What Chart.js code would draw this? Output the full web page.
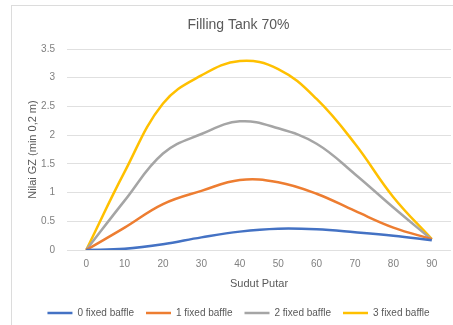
<!DOCTYPE html>
<html>
<head>
<meta charset="utf-8">
<script src="https://cdn.jsdelivr.net/npm/chart.js@4/dist/chart.umd.min.js"></script>
<style>
    html, body { margin: 0; padding: 0; background: #fff; overflow: hidden; }
    #wrap { position: relative; width: 453px; height: 325px; overflow: hidden; }
    #frame { position: absolute; left: 11px; top: 5px; width: 500px; height: 400px; border: 1px solid #dcdcdc; box-sizing: border-box; }
    #chart { position: absolute; left: 0; top: 0; }
</style>
</head>
<body>
<div id="wrap">
    <div id="frame"></div>
    <canvas id="chart" width="453" height="325"></canvas>
</div>
<script>
    const angles = ['0', '10', '20', '30', '40', '50', '60', '70', '80', '90'];
    const baffle0 = [0, 0.02, 0.10, 0.22, 0.32, 0.37, 0.36, 0.31, 0.25, 0.17];
    const baffle1 = [0, 0.39, 0.80, 1.03, 1.22, 1.18, 0.98, 0.68, 0.39, 0.19];
    const baffle2 = [0, 0.86, 1.68, 2.02, 2.24, 2.12, 1.85, 1.32, 0.74, 0.18];
    const baffle3 = [0, 1.36, 2.55, 3.04, 3.29, 3.15, 2.63, 1.85, 0.92, 0.19];

    const font = "'Liberation Sans', Arial, sans-serif";

    function line(label, data, color) {
        return {
            label: label,
            data: data,
            borderColor: color,
            backgroundColor: color,
            borderWidth: 2.5,
            pointRadius: 0,
            tension: 0.4,
            fill: false
        };
    }

    new Chart(document.getElementById('chart'), {
        type: 'line',
        data: {
            labels: angles,
            datasets: [
                line('0 fixed baffle', baffle0, '#4472C4'),
                line('1 fixed baffle', baffle1, '#ED7D31'),
                line('2 fixed baffle', baffle2, '#A5A5A5'),
                line('3 fixed baffle', baffle3, '#FFC000')
            ]
        },
        options: {
            responsive: false,
            animation: false,
            layout: { padding: { left: 26, right: 2, top: 10, bottom: -3 } },
            plugins: {
                title: {
                    display: true,
                    text: 'Filling Tank 70%',
                    color: '#595959',
                    font: { family: font, size: 14, weight: 'normal' },
                    padding: { top: 6.6, bottom: 15.6 }
                },
                legend: {
                    position: 'bottom',
                    labels: {
                        usePointStyle: true,
                        pointStyle: 'line',
                        pointStyleWidth: 25,
                        color: '#595959',
                        font: { family: font, size: 10 },
                        padding: 12
                    }
                },
                tooltip: { enabled: false }
            },
            scales: {
                x: {
                    offset: true,
                    grid: { display: false, drawTicks: false },
                    border: { display: false },
                    ticks: { color: '#808080', font: { family: font, size: 10 }, padding: 8, maxRotation: 0 },
                    title: {
                        display: true,
                        text: 'Sudut Putar',
                        color: '#595959',
                        font: { family: font, size: 11 },
                        padding: { top: 0, bottom: 5.4 }
                    },
                    afterFit: (scale) => { scale.height = 46; }
                },
                y: {
                    min: 0,
                    max: 3.5,
                    ticks: {
                        stepSize: 0.5,
                        color: '#808080',
                        font: { family: font, size: 10 },
                        padding: 12,
                        callback: (v) => String(v)
                    },
                    grid: { color: '#e0e0e0', drawTicks: false },
                    border: { display: false },
                    title: {
                        display: true,
                        text: 'Nilai GZ (min 0,2 m)',
                        color: '#595959',
                        font: { family: font, size: 11 },
                        padding: { top: 0, bottom: 0 }
                    },
                    afterFit: (scale) => { scale.width = 41; }
                }
            }
        }
    });
</script>
</body>
</html>
